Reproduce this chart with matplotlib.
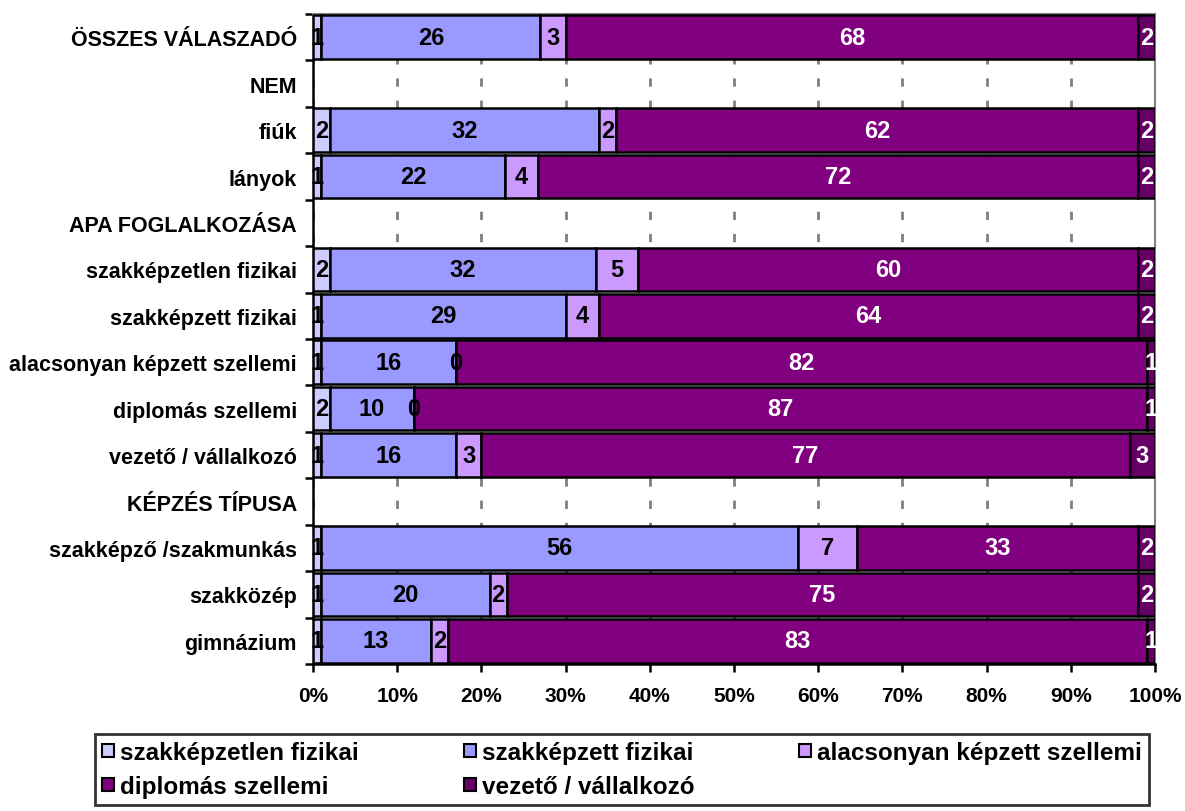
import numpy as np
import matplotlib.pyplot as plt

plt.rcParams['font.family'] = ['Liberation Sans', 'DejaVu Sans']
plt.rcParams['font.weight'] = 'bold'

rows = ['ÖSSZES VÁLASZADÓ', 'NEM', 'fiúk', 'lányok', 'APA FOGLALKOZÁSA',
        'szakképzetlen fizikai', 'szakképzett fizikai', 'alacsonyan képzett szellemi',
        'diplomás szellemi', 'vezető / vállalkozó', 'KÉPZÉS TÍPUSA',
        'szakképző /szakmunkás', 'szakközép', 'gimnázium']
headers = ['NEM', 'APA FOGLALKOZÁSA', 'KÉPZÉS TÍPUSA']

series = ['szakképzetlen fizikai', 'szakképzett fizikai', 'alacsonyan képzett szellemi',
          'diplomás szellemi', 'vezető / vállalkozó']
colors = ['#CCCCFF', '#9999FF', '#CC99FF', '#800080', '#660066']
text_colors = ['black', 'black', 'black', 'white', 'white']

# values for the rows that have bars (headers skipped), in order
szakkepzetlen = [1, 2, 1, 2, 1, 1, 2, 1, 1, 1, 1]
szakkepzett = [26, 32, 22, 32, 29, 16, 10, 16, 56, 20, 13]
alacsonyan = [3, 2, 4, 5, 4, 0, 0, 3, 7, 2, 2]
diplomas = [68, 62, 72, 60, 64, 82, 87, 77, 33, 75, 83]
vezeto = [2, 2, 2, 2, 2, 1, 1, 3, 2, 2, 1]

data = np.array([szakkepzetlen, szakkepzett, alacsonyan, diplomas, vezeto], dtype=float)
totals = data.sum(axis=0)
pct = data / totals * 100

ypos = [i for i, r in enumerate(rows) if r not in headers]

fig = plt.figure(figsize=(11.85, 8.12), dpi=100)
ax = fig.add_axes([0.2641, 0.181, 0.7106, 0.8005])

left = np.zeros(len(ypos))
bars = []
for k in range(len(series)):
    b = ax.barh(ypos, pct[k], left=left, height=0.94, color=colors[k],
                edgecolor='black', linewidth=1.8, label=series[k], zorder=3)
    bars.append(b)
    for j, y in enumerate(ypos):
        ax.text(left[j] + pct[k][j] / 2, y, f'{int(data[k][j])}', ha='center', va='center',
                fontsize=17, fontweight='bold', color=text_colors[k], zorder=4)
    left += pct[k]

ax.set_xlim(0, 100)
ax.set_ylim(len(rows) - 0.5, -0.5)
ax.set_xticks(np.arange(0, 101, 10))
ax.set_xticklabels([f'{v}%' for v in range(0, 101, 10)], fontsize=15, fontweight='bold')
ax.set_yticks(range(len(rows)))
ax.set_yticklabels(rows, fontsize=15.5, fontweight='bold')
ax.set_yticks(np.arange(-0.5, len(rows), 1), minor=True)
ax.tick_params(axis='y', which='major', length=0, pad=11.5)
ax.tick_params(axis='y', which='minor', length=6, width=1.8, direction='out')
ax.tick_params(axis='x', length=6, width=1.8, direction='out', pad=10)

ax.grid(axis='x', color='#808080', linestyle=(0, (3, 5)), linewidth=2, zorder=0)
for s in ['top', 'right']:
    ax.spines[s].set_color('#808080')
    ax.spines[s].set_linewidth(1.5)
for s in ['left', 'bottom']:
    ax.spines[s].set_color('black')
    ax.spines[s].set_linewidth(1.8)

# row-major legend order for 3 columns
order = [0, 3, 1, 4, 2]
leg = fig.legend([bars[i] for i in order], [series[i] for i in order],
                 loc='upper left', bbox_to_anchor=(0.080, 0.001, 0.89, 0.094), mode='expand',
                 ncol=3, frameon=True, fancybox=False, edgecolor='black',
                 handlelength=0.5, handleheight=0.5, handletextpad=0.25, borderaxespad=0,
                 labelspacing=0.45, borderpad=0.3,
                 prop={'weight': 'bold', 'size': 17.5})
leg.get_frame().set_linewidth(2)
for h in leg.legend_handles:
    h.set_linewidth(1.5)

fig.savefig('out.png', dpi=100)
